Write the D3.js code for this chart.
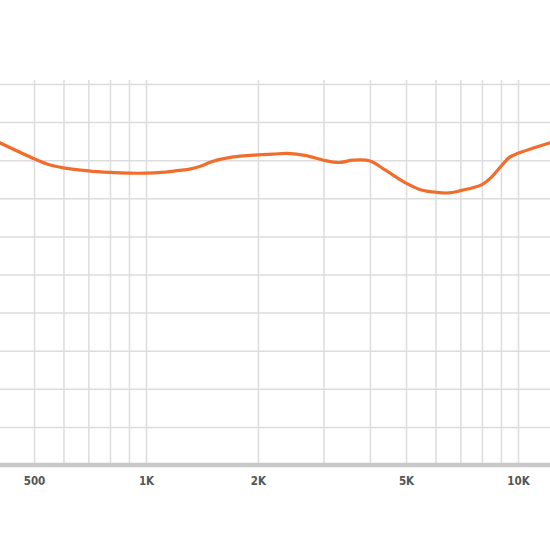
<!DOCTYPE html>
<html>
<head>
<meta charset="utf-8">
<script src="https://cdn.jsdelivr.net/npm/d3@7"></script>
<style>
  body { margin: 0; background: #fff; }
  .grid line { stroke: #dcdcdc; stroke-width: 1.5; }
  .grid path { display: none; }
  .xlab text { font-family: "DejaVu Sans Condensed", "Liberation Sans Narrow", sans-serif; font-stretch: condensed; font-weight: bold; font-size: 11.5px; fill: #555; }
</style>
</head>
<body>
<svg id="chart" width="550" height="550"></svg>
<script>
// frequency response (Hz / dB)
var freqs = [400, 500, 550, 600, 700, 800, 900, 1000, 1100, 1200, 1300, 1400, 1500, 1700,
  2000, 2200, 2400, 2700, 3000, 3300, 3600, 4000, 4400, 5000, 5500, 6000, 6500, 7000,
  8000, 8500, 9000, 9500, 10000, 11000, 12200, 12600];
var levels = [42.4, 40.2, 39.4, 39.0, 38.6, 38.4, 38.3, 38.3, 38.4, 38.6, 38.8, 39.2, 39.8, 40.4,
  40.7, 40.8, 40.9, 40.6, 40.0, 39.7, 40.0, 39.9, 38.7, 37.0, 36.1, 35.8, 35.7, 36.0,
  36.8, 37.8, 39.2, 40.4, 40.9, 41.6, 42.3, 42.5];

var gridFreqs = [500, 600, 700, 800, 900, 1000, 2000, 3000, 4000, 5000, 6000, 7000, 8000, 9000, 10000];
var labelFreqs = [500, 1000, 2000, 5000, 10000];
var labelText = ["500", "1K", "2K", "5K", "10K"];
var gridLevels = [5, 10, 15, 20, 25, 30, 35, 40, 45, 50];

function drawChart() {
  var svg = d3.select("#chart");
  var top = 80, bottom = 465;

  // 1K sits at x=146, 10K at x=518
  var x = d3.scaleLog().domain([1000, 10000]).range([146, 518]);
  var y = d3.scaleLinear().domain([0, 50]).range([bottom, 84]);

  // vertical grid
  svg.append("g")
    .attr("class", "grid")
    .attr("transform", "translate(0," + bottom + ")")
    .call(d3.axisBottom(x).tickValues(gridFreqs).tickSize(-(bottom - top)).tickFormat(""));

  // horizontal grid
  svg.append("g")
    .attr("class", "grid")
    .call(d3.axisLeft(y).tickValues(gridLevels).tickSize(-550).tickFormat(""))
    .selectAll("line").attr("x1", 0).attr("x2", 550);

  // base bar
  svg.append("line")
    .attr("x1", 0).attr("x2", 550)
    .attr("y1", y(0)).attr("y2", y(0))
    .attr("stroke", "#c8c8c8")
    .attr("stroke-width", 4.5);

  // frequency labels
  var xa = svg.append("g")
    .attr("class", "xlab")
    .attr("transform", "translate(0," + (bottom + 9) + ")")
    .call(d3.axisBottom(x).tickValues(labelFreqs).tickSize(0)
      .tickFormat(function (d, i) { return labelText[i]; }));
  xa.select(".domain").remove();

  // response curve
  var line = d3.line()
    .x(function (d, i) { return x(freqs[i]); })
    .y(function (d) { return y(d); })
    .curve(d3.curveCatmullRom.alpha(0.5));

  svg.append("path")
    .datum(levels)
    .attr("d", line)
    .attr("fill", "none")
    .attr("stroke", "#f26d2b")
    .attr("stroke-width", 3.2)
    .attr("stroke-linejoin", "round");
}

drawChart();
</script>
</body>
</html>
